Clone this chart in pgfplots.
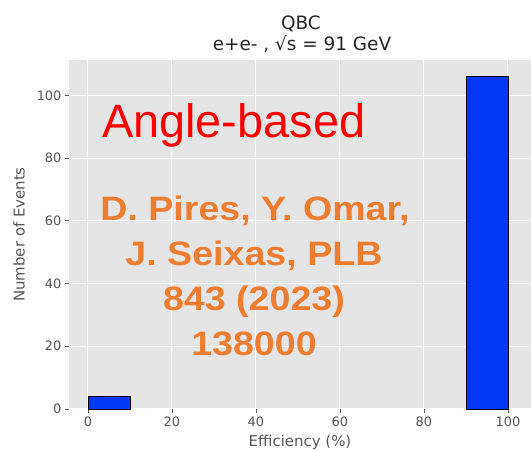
\documentclass[border=0pt]{standalone}
\usepackage{fontspec}
\setmainfont{DejaVu Sans}
\newfontfamily\arialfont{Liberation Sans}
\usepackage{pgfplots}
\pgfplotsset{compat=1.18}
\definecolor{panel}{HTML}{E5E5E5}
\definecolor{ticktext}{HTML}{555555}
\definecolor{barblue}{RGB}{3,57,246}
\definecolor{noteorange}{HTML}{ED7D31}

\begin{document}
\begin{tikzpicture}[x=1bp,y=1bp]
\useasboundingbox (0,0) rectangle (531,451);
\clip (0,0) rectangle (531,451);
\begin{axis}[
  at={(69bp,42bp)}, anchor=south west,
  width=462bp, height=349bp, scale only axis,
  xmin=-4.5, xmax=105.5, ymin=0, ymax=111.3,
  axis background/.style={fill=panel},
  axis line style={draw=none},
  grid=major, major grid style={white, line width=1bp},
  xtick={0,20,...,100}, ytick={0,20,...,100},
  tick align=outside, major tick length=4bp,
  tick style={ticktext, line width=0.8bp},
  xtick pos=bottom, ytick pos=left,
  ticklabel style={font=\fontsize{13}{15}\selectfont, text=ticktext},
  /pgf/number format/assume math mode=true,
  xlabel={Efficiency (\%)}, ylabel={Number of Events},
  label style={font=\fontsize{15}{17}\selectfont, text=ticktext},
  xlabel style={at={(axis description cs:0.5,0)}, anchor=base, yshift=-38bp},
  ylabel style={at={(axis description cs:-0.108,0.5)}, anchor=center},
  clip=false,
]
% histogram bins (10 % wide); only the non-empty bins are drawn
\addplot[ybar interval, fill=barblue, draw=black, line width=0.8bp]
  coordinates {(0,4) (10,4)};
\addplot[ybar interval, fill=barblue, draw=black, line width=0.8bp]
  coordinates {(90,106) (100,106)};
\end{axis}

% title
\node[anchor=base, inner sep=0, text=black!85, font=\fontsize{18.5}{20}\selectfont] at (301,421) {QBC};
\node[anchor=base, inner sep=0, text=black!85, font=\fontsize{18.5}{20}\selectfont] at (302,400) {e+e- , √s = 91 GeV};

% annotations
\node[anchor=base west, inner sep=0, text=red, font=\arialfont\fontsize{47}{50}\selectfont] at (102,313) {Angle-based};
\begin{scope}[every node/.style={anchor=base, inner sep=0, xscale=1.11, text=noteorange, font=\arialfont\bfseries\fontsize{34}{36}\selectfont}]
\node at (255,230) {D. Pires, Y. Omar,};
\node at (254,185) {J. Seixas, PLB};
\node at (254,140) {843 (2023)};
\node at (254,95) {138000};
\end{scope}
\end{tikzpicture}
\end{document}
